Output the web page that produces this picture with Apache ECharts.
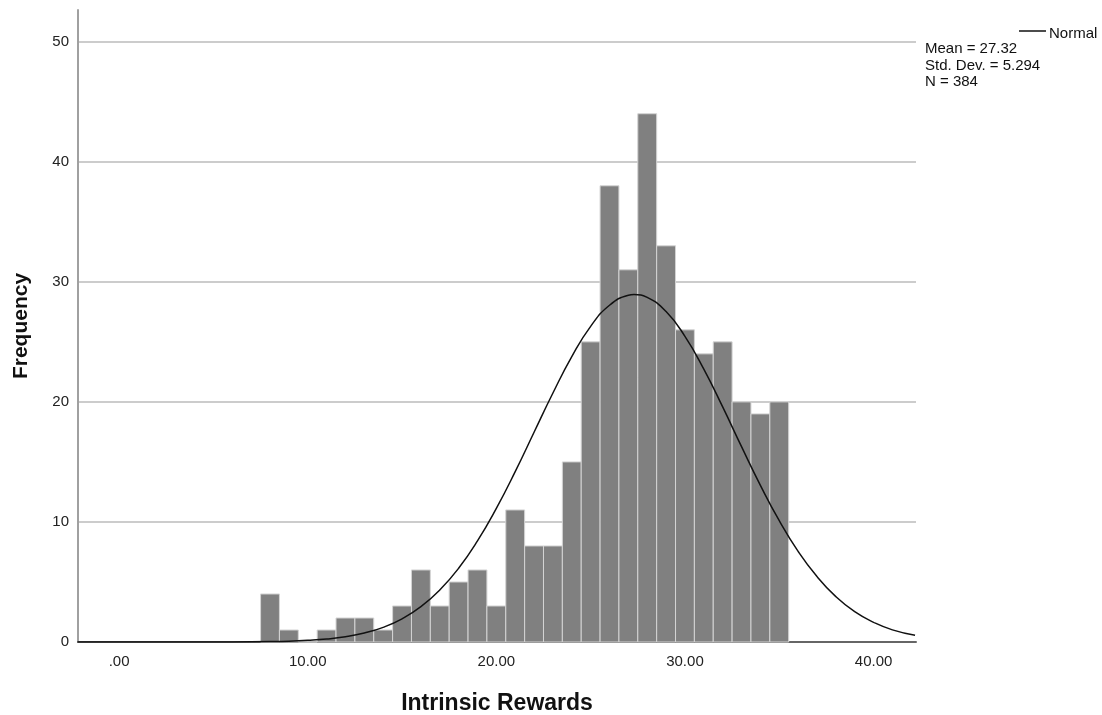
<!DOCTYPE html>
<html>
<head>
<meta charset="utf-8">
<title>Intrinsic Rewards</title>
<script src="https://cdn.jsdelivr.net/npm/echarts@6/dist/echarts.min.js"></script>
<style>
  html, body { margin: 0; padding: 0; background: #fff; }
  #chart { width: 1102px; height: 715px; }
</style>
</head>
<body>
<div id="chart"></div>
<script>
// histogram bins (lower edge, count), width 1
const binLower = [7.5, 8.5, 9.5, 10.5, 11.5, 12.5, 13.5, 14.5, 15.5, 16.5, 17.5, 18.5, 19.5, 20.5,
  21.5, 22.5, 23.5, 24.5, 25.5, 26.5, 27.5, 28.5, 29.5, 30.5, 31.5, 32.5, 33.5, 34.5];
const binCounts = [4, 1, 0, 1, 2, 2, 1, 3, 6, 3, 5, 6, 3, 11,
  8, 8, 15, 25, 38, 31, 44, 33, 26, 24, 25, 20, 19, 20];
const binWidth = 1;

// normal curve
const curveX = [-2.2, 0, 2, 4, 6, 8, 9, 10, 11, 12, 13, 14, 15, 16, 17, 18, 19, 20, 21, 22, 23, 24, 25, 26,
  27, 27.3, 28, 29, 30, 31, 32, 33, 34, 35, 36, 37, 38, 39, 40, 41, 42.2];
const curveY = [0, 0, 0, 0.002, 0.01, 0.04, 0.07, 0.14, 0.25, 0.44, 0.75, 1.22, 1.93, 2.94, 4.33, 6.14, 8.42, 11.13,
  14.19, 17.47, 20.74, 23.77, 26.29, 28.05, 28.88, 28.94, 28.7, 27.52, 25.46, 22.73, 19.58, 16.27, 13.05, 10.1,
  7.55, 5.45, 3.78, 2.52, 1.64, 1.01, 0.56];

const xTicks = [0, 10, 20, 30, 40];
const yTicks = [0, 10, 20, 30, 40, 50];
const statLines = ['Mean = 27.32', 'Std. Dev. = 5.294', 'N = 384'];

let myChart = echarts.init(document.getElementById('chart'));

const barData = binCounts.map((c, i) => [binLower[i], binLower[i] + binWidth, c]);
const curveData = curveX.map((x, i) => [x, curveY[i]]);

const font = 'Liberation Sans, Arial, sans-serif';

const option = {
  animation: false,
  backgroundColor: '#ffffff',
  grid: {
    left: 78,
    right: 186,
    top: 10,
    bottom: 73,
    outerBoundsMode: 'none',
    containLabel: false
  },
  xAxis: {
    type: 'value',
    min: -2.18,
    max: 42.25,
    name: 'Intrinsic Rewards',
    nameLocation: 'middle',
    nameGap: 50,
    nameTextStyle: { fontFamily: font, fontSize: 23, fontWeight: 'bold', color: '#111' },
    axisLine: { show: true, onZero: false, lineStyle: { color: '#666', width: 2 } },
    axisTick: { show: false, customValues: xTicks },
    splitLine: { show: false },
    axisLabel: {
      customValues: xTicks,
      margin: 12,
      fontFamily: font,
      fontSize: 15,
      color: '#222',
      formatter: v => v === 0 ? '.00' : v.toFixed(2)
    }
  },
  yAxis: {
    type: 'value',
    min: 0,
    max: 52.64,
    name: 'Frequency',
    nameLocation: 'middle',
    nameGap: 46,
    nameTextStyle: { fontFamily: font, fontSize: 21, fontWeight: 'bold', color: '#111' },
    axisLine: { show: true, onZero: false, lineStyle: { color: '#a0a0a0', width: 2 } },
    axisTick: { show: false, customValues: yTicks },
    splitLine: { show: true, lineStyle: { color: '#cccccc', width: 2 } },
    axisLabel: {
      customValues: yTicks,
      margin: 9,
      fontFamily: font,
      fontSize: 15,
      color: '#222'
    }
  },
  series: [
    {
      name: 'Frequency',
      type: 'custom',
      data: barData,
      encode: { x: [0, 1], y: 2 },
      renderItem: function (params, api) {
        const p0 = api.coord([api.value(0), api.value(2)]);
        const p1 = api.coord([api.value(1), 0]);
        return {
          type: 'rect',
          shape: { x: p0[0], y: p0[1], width: p1[0] - p0[0], height: p1[1] - p0[1] },
          style: { fill: '#808080', stroke: '#d4d4d4', lineWidth: 1 }
        };
      },
      z: 2
    },
    {
      name: 'Normal',
      type: 'line',
      data: curveData,
      smooth: true,
      showSymbol: false,
      lineStyle: { color: '#111', width: 1.5 },
      z: 3
    }
  ],
  graphic: [
    {
      type: 'line',
      shape: { x1: 1019, y1: 31, x2: 1046, y2: 31 },
      style: { stroke: '#111', lineWidth: 1.5 }
    },
    {
      type: 'text',
      left: 1049,
      top: 26,
      style: { text: 'Normal', font: '15px ' + font, fill: '#111' }
    },
    {
      type: 'text',
      left: 925,
      top: 41,
      style: { text: statLines.join('\n'), font: '15px ' + font, lineHeight: 16.5, fill: '#111' }
    }
  ]
};

myChart.setOption(option);
</script>
</body>
</html>
